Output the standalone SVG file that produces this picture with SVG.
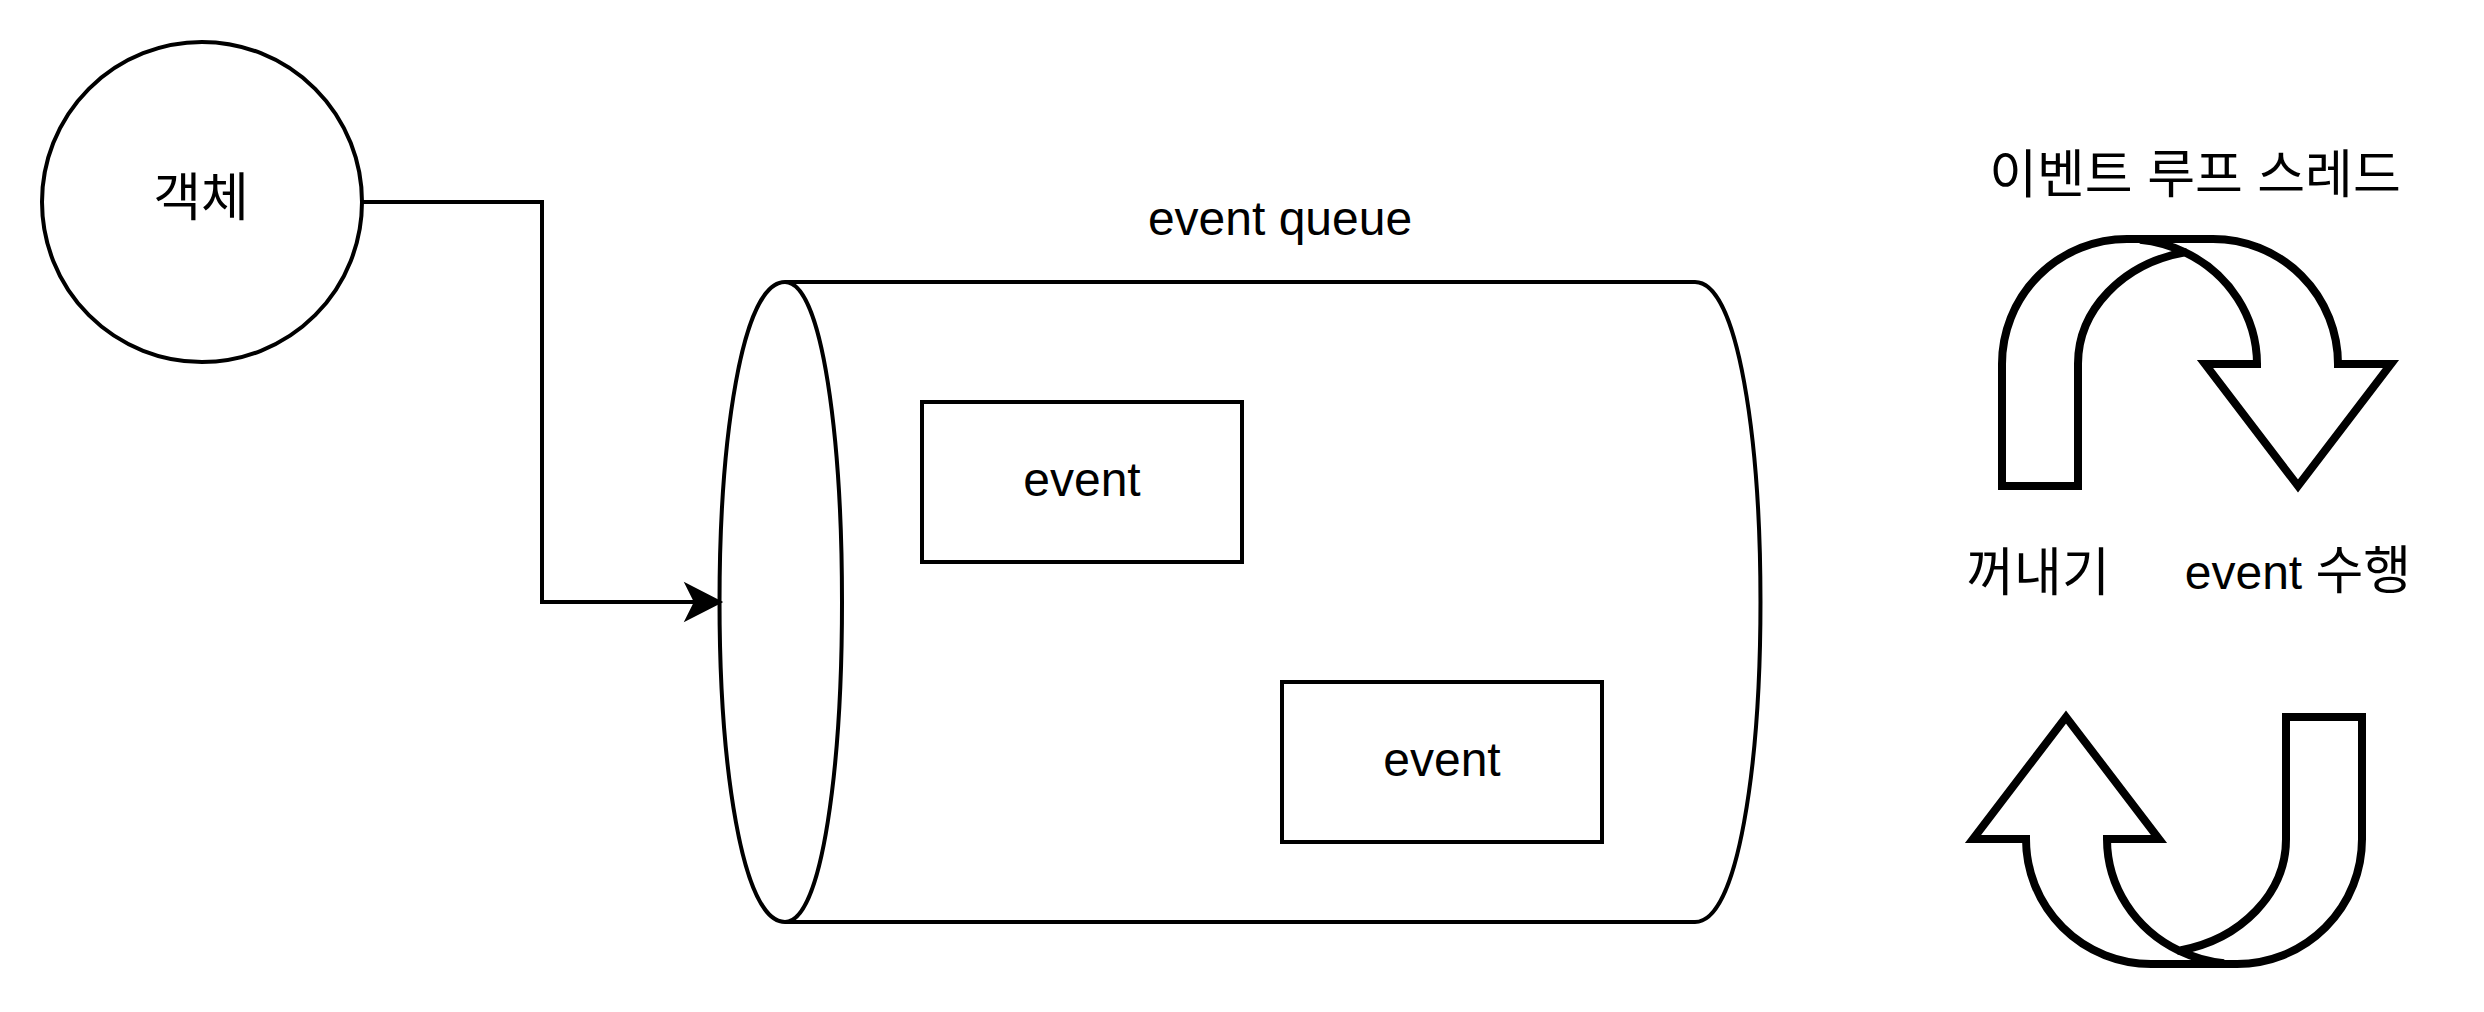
<svg xmlns="http://www.w3.org/2000/svg" width="2484" height="1012" viewBox="0 0 2484 1012">
  <style>
    .ln { fill: #ffffff; stroke: #000000; stroke-width: 4; }
    .thick { fill: #ffffff; stroke: #000000; stroke-width: 8; stroke-linejoin: miter; stroke-miterlimit: 10; }
    .open { fill: none; stroke: #000000; stroke-width: 8; }
    .edge { fill: none; stroke: #000000; stroke-width: 4; }
    .txt { font-family: "Liberation Sans", "Noto Sans CJK KR", Arial, sans-serif; font-size: 48px; fill: #000000; text-anchor: middle; }
    .ko { font-size: 52px; }
  </style>
  <defs>
    <g id="uturn">
      <path class="thick" d="M 2002,486 L 2002,364 A 125,125 0 0 1 2127,239 L 2213,239 A 125,125 0 0 1 2338,364 L 2391,364 L 2298,486 L 2205,364 L 2257,364 A 130,125 0 0 0 2185,252.3 A 135,114 0 0 0 2078,364 L 2078,486 Z"/>
      <path class="open" d="M 2185,252.3 A 130,125 0 0 0 2140,239.7"/>
    </g>
  </defs>
  <rect x="0" y="0" width="2484" height="1012" fill="#ffffff"/>

  <g id="object">
    <circle class="ln" cx="202" cy="202" r="160"/>
    <text class="txt ko" x="201" y="216">객체</text>
  </g>

  <g id="event-queue">
    <path class="ln" d="M 785,282 C 697.7,282 697.7,922 785,922 L 1695,922 C 1782.3,922 1782.3,282 1695,282 Z"/>
    <path class="edge" d="M 785,282 C 861,282 861,922 785,922"/>
    <text class="txt" x="1280" y="235">event queue</text>
  </g>

  <g id="event-1">
    <rect class="ln" x="922" y="402" width="320" height="160"/>
    <text class="txt" x="1082" y="496">event</text>
  </g>

  <g id="event-2">
    <rect class="ln" x="1282" y="682" width="320" height="160"/>
    <text class="txt" x="1442" y="776">event</text>
  </g>

  <g id="event-loop-thread">
    <text class="txt ko" x="2195" y="193">이벤트 루프 스레드</text>
    <use href="#uturn"/>
    <use href="#uturn" transform="rotate(180 2182 601.5)"/>
    <text class="txt ko" x="2038" y="591">꺼내기</text>
    <text class="txt" x="2298" y="589">event <tspan class="ko">수행</tspan></text>
  </g>

  <g id="connectors">
    <path class="edge" d="M 362,202 L 542,202 L 542,602 L 698,602"/>
    <path d="M 721,602 L 686,620 L 695,602 L 686,584 Z" fill="#000000" stroke="#000000" stroke-width="2" stroke-linejoin="miter"/>
  </g>
</svg>
